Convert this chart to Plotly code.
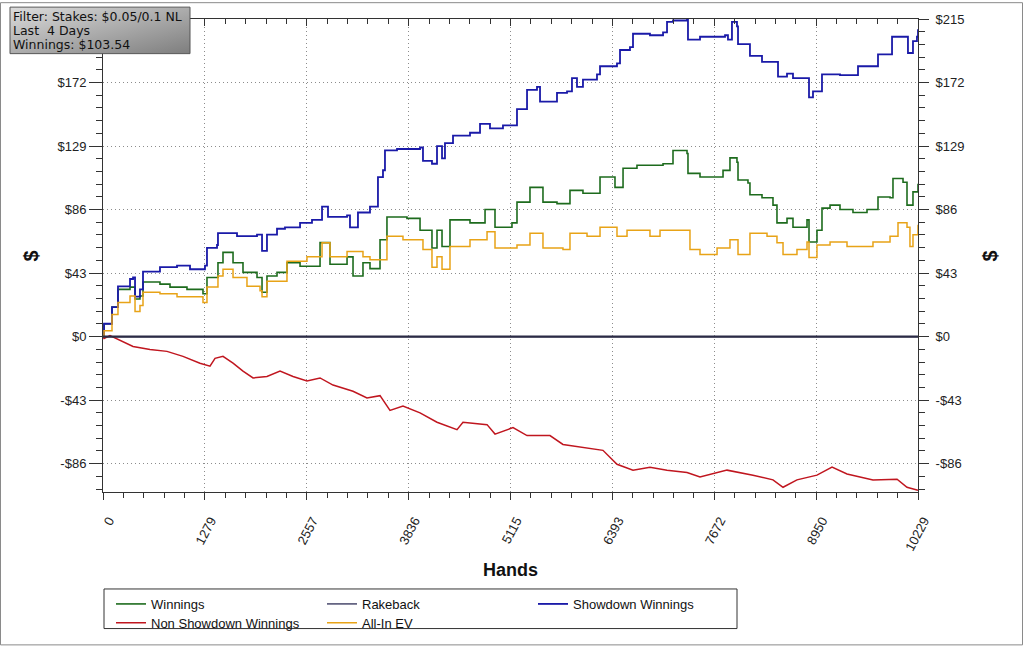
import base64
import plotly.graph_objects as go

# ---------------- data (hands, $) ----------------
sd_hands = [0, 13, 113, 188, 339, 377, 402, 464, 502, 715, 929, 1092, 1280, 1305, 1431, 1443,
            1632, 1682, 1933, 1996, 2058, 2184, 2284, 2473, 2623, 2749, 2824, 3063, 3100, 3200,
            3351, 3451, 3514, 3539, 3690, 3979, 4016, 4129, 4192, 4255, 4292, 4393, 4606, 4732,
            4857, 5020, 5196, 5322, 5447, 5485, 5698, 5824, 5886, 5949, 6024, 6200, 6238, 6451,
            6489, 6614, 6652, 6865, 7029, 7079, 7154, 7330, 7342, 7493, 7807, 7844, 7894, 7957,
            7970, 8120, 8271, 8472, 8585, 8660, 8861, 8911, 9024, 9250, 9476, 9727, 9903, 10103,
            10166, 10216, 10229]
sd_vals = [0, 8.7, 20, 34, 39, 40, 27, 32, 44, 47, 48, 45.6, 48, 60, 62, 70,
           70, 68, 69, 58, 69, 73, 74, 77, 79, 88, 81, 82, 74, 84,
           88, 108, 112.6, 126, 127, 128, 119, 117, 129, 120.6, 131, 136, 138, 144,
           141, 143, 154, 167, 169, 159, 165, 166, 175, 169, 174, 177.5, 183, 185,
           194, 196, 205, 204, 206, 213, 214, 215, 201, 203, 204, 201, 213, 210,
           198, 190, 186, 176, 178, 175, 162, 166, 177.5, 177, 183, 191, 203, 192,
           200, 203, 208]

win_hands = [0, 13, 113, 188, 339, 402, 464, 502, 715, 841, 1054, 1255, 1305, 1443, 1506, 1632,
             1757, 1933, 1996, 2058, 2184, 2309, 2473, 2724, 2849, 3063, 3138, 3263, 3351, 3477,
             3564, 3815, 3979, 4129, 4192, 4255, 4355, 4606, 4795, 4920, 5133, 5196, 5359, 5485,
             5522, 5698, 5861, 6024, 6238, 6426, 6527, 6702, 7029, 7154, 7330, 7342, 7493, 7782,
             7869, 7957, 7970, 8095, 8120, 8271, 8409, 8459, 8585, 8660, 8836, 8861, 8961, 9024,
             9125, 9250, 9413, 9589, 9727, 9878, 9915, 10041, 10091, 10166, 10229]
win_vals = [0, 8.7, 20, 32, 33.5, 25.5, 27.5, 37, 35.5, 33.5, 32, 29, 40, 50, 57, 50,
            43.5, 40, 30, 41, 43.5, 50, 47.6, 63.6, 49, 54, 41, 50, 46, 65.6,
            81, 80, 72, 60, 72, 61, 79, 77, 86, 74, 77, 91, 101, 101,
            91, 90, 99, 97, 108, 101, 114, 116, 117, 126, 124, 110.5, 108, 112.5,
            121, 118, 106, 104, 96, 94, 89, 77, 80, 74, 79, 64, 72, 87,
            89, 86, 84, 86, 94.5, 94, 107, 104.5, 89, 98, 103.54]

ev_hands = [0, 13, 113, 188, 339, 402, 464, 502, 715, 929, 1255, 1305, 1443, 1506, 1632, 1807,
            1971, 1996, 2058, 2309, 2560, 2749, 2849, 3063, 3263, 3351, 3564, 3765, 4016, 4129,
            4192, 4255, 4355, 4606, 4820, 4920, 5196, 5359, 5522, 5773, 5861, 6075, 6238, 6451,
            6577, 6865, 6991, 7330, 7367, 7493, 7707, 7869, 7970, 8120, 8334, 8459, 8535, 8710,
            8836, 8861, 8961, 9125, 9338, 9664, 9878, 9978, 10091, 10128, 10166, 10229]
ev_vals = [0, 4, 15, 23, 27.5, 17, 21, 30, 29, 27, 23, 33.5, 41, 45.6, 40, 34,
           31, 27, 37.5, 51, 54, 63.6, 54, 57.6, 54, 52, 68, 65.6, 59, 47,
           54, 45.6, 61, 65.6, 71, 60, 62, 70, 60, 59, 70, 68, 74, 68,
           72, 68, 72, 72, 59, 55.6, 60, 65.6, 55.6, 70, 68, 63.6, 55.6, 59,
           64, 53.6, 62, 64, 61, 64, 68, 77, 74, 61, 69, 75.7]

nsd_hands = [0, 13, 88, 213, 377, 590, 803, 1004, 1217, 1343, 1406, 1506, 1632, 1757, 1883, 2058,
             2222, 2385, 2560, 2724, 2887, 3138, 3313, 3477, 3602, 3765, 3979, 4192, 4443, 4518,
             4820, 4920, 5146, 5322, 5610, 5773, 6024, 6275, 6451, 6652, 6865, 7079, 7330, 7493,
             7832, 8158, 8409, 8535, 8710, 8961, 9150, 9338, 9664, 9966, 10091, 10229]
nsd_vals = [0, -1.3, 0.7, -2.7, -6.7, -8.7, -10, -13.4, -18, -20, -14.7, -13.4, -18, -23.4, -28, -27,
            -23.4, -27, -30, -28, -32.8, -37, -41.5, -40, -50, -47, -51.6, -58, -63, -58,
            -59.6, -66, -61.6, -67, -67, -73, -75, -77, -86.4, -90.4, -88.4, -90.4, -92, -95,
            -90.4, -93.8, -97, -102, -97, -93.8, -88.4, -93, -97, -96.5, -102, -104]

rb_hands = [0, 10229]
rb_vals = [0, 0]

x_tickvals = [0, 1279, 2557, 3836, 5115, 6393, 7672, 8950, 10229]
x_ticktext = ["0", "1279", "2557", "3836", "5115", "6393", "7672", "8950", "10229"]
y_tickvals = [-86, -43, 0, 43, 86, 129, 172, 215]
y_ticktext = ["-$86", "-$43", "$0", "$43", "$86", "$129", "$172", "$215"]
# the filter box hides the top label on the left axis
y_ticktext_left = y_ticktext[:-1] + [""]

filter_lines = ["Filter: Stakes: $0.05/0.1 NL", "Last  4 Days", "Winnings: $103.54"]

# ---------------- figure ----------------
W, H = 1023, 650
L, R, T, B = 103, 105, 17, 155
PW, PH = W - L - R, H - T - B


def px(xp):
    return (xp - L) / PW


def py(yp):
    return (H - B - yp) / PH


fig = go.Figure()
series = [
    ("Winnings", win_hands, win_vals, "#1d6b1d", 1.6, "hv", "legend"),
    ("Rakeback", rb_hands, rb_vals, "#1c1c48", 1.2, "linear", "legend"),
    ("Showdown Winnings", sd_hands, sd_vals, "#1a1aa8", 1.8, "hv", "legend"),
    ("Non Showdown Winnings", nsd_hands, nsd_vals, "#c0161f", 1.5, "linear", "legend2"),
    ("All-In EV", ev_hands, ev_vals, "#e8a317", 1.5, "hv", "legend2"),
]
for name, xs, ys, col, w, shape, lg in series:
    fig.add_trace(go.Scatter(x=xs, y=ys, mode="lines", name=name, legend=lg,
                             line=dict(color=col, width=w, shape=shape)))

# thick zero (rakeback) line
fig.add_trace(go.Scatter(x=rb_hands, y=rb_vals, mode="lines", showlegend=False,
                         line=dict(color="#2b2b45", width=2.2), hoverinfo="skip"))
# invisible traces for the right and top axes
fig.add_trace(go.Scatter(x=[0], y=[0], yaxis="y2", mode="markers",
                         marker=dict(opacity=0), showlegend=False, hoverinfo="skip"))
fig.add_trace(go.Scatter(x=[0], y=[0], xaxis="x2", mode="markers",
                         marker=dict(opacity=0), showlegend=False, hoverinfo="skip"))

tickfont = dict(family="Liberation Sans, Arial", size=13, color="#222")
xtickfont = dict(family="Liberation Sans, Arial", size=13, color="#222")
legfont = dict(family="Liberation Sans, Arial", size=13, color="#111")
yrange = [-105.2, 215]
xrange_ = [0, 10229]
grid = dict(showgrid=True, gridcolor="#8c8c8c", griddash="1px,3px", gridwidth=1)
fig.update_layout(
    width=W, height=H,
    margin=dict(l=L, r=R, t=T, b=B),
    paper_bgcolor="white", plot_bgcolor="white",
    showlegend=True,
    xaxis=dict(range=xrange_, tickmode="array", tickvals=x_tickvals, ticktext=x_ticktext,
               tickangle=-62, tickfont=xtickfont, ticks="outside", ticklen=7, tickcolor="#333",
               ticklabelstandoff=8, ticklabelshift=6,
               showline=True, linecolor="#333", linewidth=1, zeroline=False,
               minor=dict(dtick=255.725, tick0=0, ticks="outside", ticklen=5, tickcolor="#333",
                          showgrid=False), **grid),
    xaxis2=dict(range=xrange_, overlaying="x", side="top", tickmode="array",
                tickvals=x_tickvals, showticklabels=False, ticks="inside", ticklen=7,
                tickcolor="#333", showline=True, linecolor="#333", linewidth=1,
                showgrid=False, zeroline=False,
                minor=dict(dtick=255.725, tick0=0, ticks="inside", ticklen=5, tickcolor="#333")),
    yaxis=dict(range=yrange, tickmode="array", tickvals=y_tickvals, ticktext=y_ticktext_left,
               tickfont=tickfont, ticks="outside", ticklen=13, tickcolor="#333",
               showline=True, linecolor="#333", linewidth=1, zeroline=False,
               minor=dict(dtick=8.6, tick0=0, ticks="outside", ticklen=6, tickcolor="#333",
                          showgrid=False), **grid),
    yaxis2=dict(range=yrange, overlaying="y", side="right", tickmode="array",
                tickvals=y_tickvals, ticktext=y_ticktext, tickfont=tickfont,
                ticks="outside", ticklen=10, tickcolor="#333", ticklabelstandoff=4,
                showline=True, linecolor="#333", linewidth=1, showgrid=False, zeroline=False,
                minor=dict(dtick=8.6, tick0=0, ticks="outside", ticklen=6, tickcolor="#333")),
    legend=dict(orientation="h", x=px(111), y=py(593), xanchor="left", yanchor="top",
                entrywidth=166, entrywidthmode="pixels", itemwidth=30, font=legfont,
                bgcolor="rgba(0,0,0,0)", borderwidth=0, tracegroupgap=0),
    legend2=dict(orientation="h", x=px(111), y=py(612), xanchor="left", yanchor="top",
                 entrywidth=166, entrywidthmode="pixels", itemwidth=30, font=legfont,
                 bgcolor="rgba(0,0,0,0)", borderwidth=0, tracegroupgap=0),
    hovermode=False,
)

# legend frame
fig.add_shape(type="rect", xref="paper", yref="paper", x0=px(104), x1=px(737),
              y0=py(633), y1=py(593), line=dict(color="#333", width=1), fillcolor="rgba(0,0,0,0)")
# outer frame
fig.add_shape(type="rect", xref="paper", yref="paper", x0=px(0.5), x1=px(1022.5),
              y0=py(649.5), y1=py(0.5), line=dict(color="#8a8a8a", width=1),
              fillcolor="rgba(0,0,0,0)")

# filter box with gradient
svg = ('<svg xmlns="http://www.w3.org/2000/svg" width="180" height="47">'
       '<defs><linearGradient id="g" x1="0" y1="0" x2="1" y2="1">'
       '<stop offset="0" stop-color="#dcdcdc"/><stop offset="1" stop-color="#7e7e7e"/>'
       '</linearGradient></defs><rect width="180" height="47" fill="url(#g)"/></svg>')
src = "data:image/svg+xml;base64," + base64.b64encode(svg.encode()).decode()
fig.add_layout_image(dict(source=src, xref="paper", yref="paper", x=px(10), y=py(5),
                          sizex=px(190) - px(10), sizey=py(5) - py(52),
                          xanchor="left", yanchor="top", sizing="stretch", layer="above"))
fig.add_shape(type="rect", xref="paper", yref="paper", x0=px(10), x1=px(190),
              y0=py(52), y1=py(5), line=dict(color="#555", width=1),
              fillcolor="rgba(0,0,0,0)")
for i, t in enumerate(filter_lines):
    fig.add_annotation(text=t, xref="paper", yref="paper", x=px(11), y=py(14 + 14.5 * i),
                       xanchor="left", yanchor="middle", showarrow=False,
                       font=dict(family="DejaVu Sans, Verdana", size=12.5, color="#111"))

# axis titles
fig.add_annotation(text="<b>Hands</b>", xref="paper", yref="paper", x=0.5, y=py(574),
                   xanchor="center", yanchor="middle", showarrow=False,
                   font=dict(family="Liberation Sans, Arial", size=18, color="#111"))
for xp in (31, 990):
    fig.add_annotation(text="<b>$</b>", xref="paper", yref="paper", x=px(xp), y=py(257),
                       xanchor="center", yanchor="middle", showarrow=False, textangle=-90,
                       font=dict(family="Liberation Sans, Arial", size=20, color="#111"))

fig.write_html("out.html", config={"displayModeBar": False},
               post_script="document.body.style.margin='0px';")
